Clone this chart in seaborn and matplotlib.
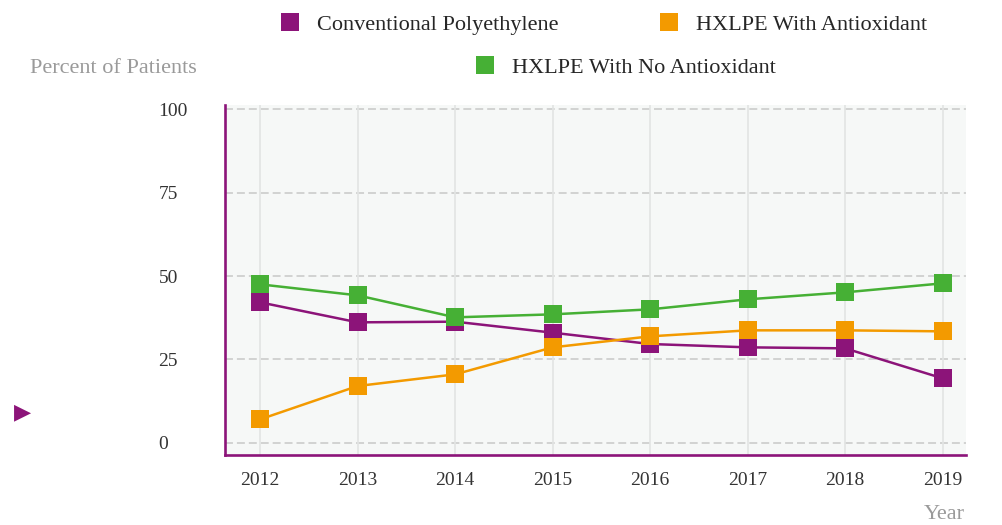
import matplotlib
matplotlib.use("Agg")
import matplotlib.pyplot as plt
from matplotlib.lines import Line2D
import seaborn as sns
import pandas as pd

# data
years = [2012, 2013, 2014, 2015, 2016, 2017, 2018, 2019]
conventional = [42.1, 36.1, 36.3, 33.0, 29.6, 28.6, 28.3, 19.3]
with_antiox = [7.0, 17.0, 20.5, 28.6, 31.9, 33.7, 33.7, 33.4]
no_antiox = [47.5, 44.2, 37.6, 38.5, 40.0, 43.0, 45.1, 47.8]
series_names = ["Conventional Polyethylene", "HXLPE With Antioxidant", "HXLPE With No Antioxidant"]
y_ticks = [0, 25, 50, 75, 100]

colors = {
    "Conventional Polyethylene": "#8C1479",
    "HXLPE With Antioxidant": "#F39A00",
    "HXLPE With No Antioxidant": "#46B035",
}

df = pd.DataFrame({
    "year": years * 3,
    "value": conventional + with_antiox + no_antiox,
    "series": [series_names[0]] * 8 + [series_names[1]] * 8 + [series_names[2]] * 8,
})

sns.set_style("white")
plt.rcParams["font.family"] = ["Liberation Serif", "DejaVu Serif"]

fig = plt.figure(figsize=(10.02, 5.25), dpi=100)
ax = fig.add_axes([0.2246, 0.1333, 0.7395, 0.6667])
ax.set_facecolor("#F6F8F7")

sns.lineplot(data=df, x="year", y="value", hue="series", hue_order=series_names,
             palette=colors, marker="s", markersize=12.5, markeredgewidth=0,
             linewidth=1.8, legend=False, ax=ax, zorder=3)

ax.set_xlim(2011.64, 2019.24)
ax.set_ylim(-3.7, 101.3)
ax.set_xticks(years)
ax.set_xticklabels([str(y) for y in years])
ax.set_yticks(y_ticks)
ax.set_xlabel("")
ax.set_ylabel("")

# grid: dashed horizontal, solid light vertical
ax.grid(False)
for t in y_ticks:
    ax.axhline(t, color="#C8C8C8", linewidth=1.1, dashes=(5.2, 2.6), zorder=1)
for y in years:
    ax.axvline(y, color="#E2E4E3", linewidth=1.2, zorder=1)

for s in ["top", "right"]:
    ax.spines[s].set_visible(False)
for s in ["left", "bottom"]:
    ax.spines[s].set_color("#8C1479")
    ax.spines[s].set_linewidth(1.9)

ax.tick_params(axis="x", length=0, pad=12, labelsize=14, labelcolor="#333333")
ax.tick_params(axis="y", length=0, pad=48, labelsize=14, labelcolor="#333333")
for lab in ax.get_yticklabels():
    lab.set_horizontalalignment("left")

# legend entries placed like the reference (two rows, centered)
legend_pos = [(0.2795, 0.953), (0.658, 0.953), (0.4745, 0.871)]
for name, (lx, ly) in zip(series_names, legend_pos):
    h = Line2D([], [], marker="s", linestyle="none", color=colors[name],
               markersize=13.5, markeredgewidth=0)
    fig.legend(handles=[h], labels=[name], loc="center left", bbox_to_anchor=(lx, ly),
               frameon=False, handlelength=0.9, handletextpad=0.75, borderpad=0,
               borderaxespad=0, fontsize=16)

fig.text(0.030, 0.870, "Percent of Patients", fontsize=16, color="#9A9A9A",
         ha="left", va="center")
fig.text(0.963, 0.020, "Year", fontsize=16, color="#9A9A9A", ha="right", va="center")
fig.text(0.022, 0.215, "\u25B6", fontsize=16, color="#8C1479", ha="center", va="center",
         family=["DejaVu Sans"])

fig.savefig("out.png", dpi=100)
